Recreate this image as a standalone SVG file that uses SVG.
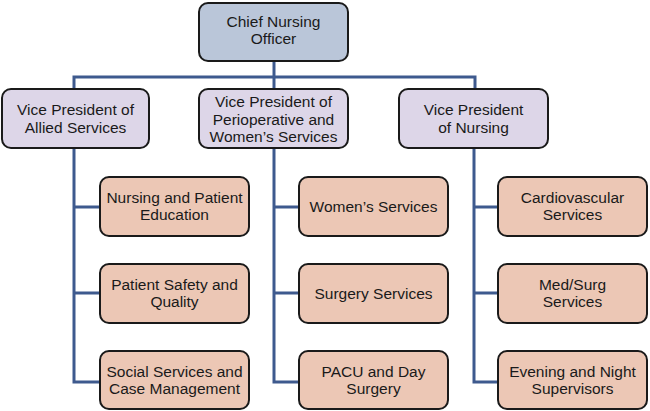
<svg xmlns="http://www.w3.org/2000/svg" width="650" height="411" viewBox="0 0 650 411">
<style>
  .box { stroke: #1a1a1a; stroke-width: 2; }
  .chief { fill: #bac6d9; }
  .vp { fill: #ddd6e8; }
  .dept { fill: #ecc7b5; }
  .lbl { font-family: "Liberation Sans", Arial, sans-serif; font-size: 15.5px; fill: #1a1a1a; text-anchor: middle; }
  .conn { stroke: #3e5a8e; stroke-width: 3; fill: none; }
</style>
<rect width="650" height="411" fill="#ffffff"/>
<g id="connectors">
  <path class="conn" d="M274 61 V89"/>
  <path class="conn" d="M74 89 V77 H475 V89"/>
  <path class="conn" d="M74 148 V382 H100 M74 207 H100 M74 293 H100"/>
  <path class="conn" d="M274 148 V382 H299 M274 207 H299 M274 293 H299"/>
  <path class="conn" d="M474 148 V382 H498 M474 207 H498 M474 293 H498"/>
</g>
<g id="chief">
  <rect class="box chief" x="199" y="3" width="149" height="58" rx="9"/>
  <text class="lbl" x="273.5" y="27">Chief Nursing</text>
  <text class="lbl" x="273.5" y="44">Officer</text>
</g>
<g id="vp-allied">
  <rect class="box vp" x="2" y="89" width="147" height="59" rx="9"/>
  <text class="lbl" x="75.5" y="115">Vice President of</text>
  <text class="lbl" x="75.5" y="133">Allied Services</text>
</g>
<g id="vp-periop">
  <rect class="box vp" x="199" y="89" width="149" height="59" rx="9"/>
  <text class="lbl" x="273.5" y="107">Vice President of</text>
  <text class="lbl" x="273.5" y="125">Perioperative and</text>
  <text class="lbl" x="273.5" y="142">Women’s Services</text>
</g>
<g id="vp-nursing">
  <rect class="box vp" x="399" y="89" width="149" height="59" rx="9"/>
  <text class="lbl" x="473.5" y="115">Vice President</text>
  <text class="lbl" x="473.5" y="133">of Nursing</text>
</g>
<g id="nursing-patient-education">
  <rect class="box dept" x="100" y="177" width="149" height="59" rx="9"/>
  <text class="lbl" x="174.5" y="203">Nursing and Patient</text>
  <text class="lbl" x="174.5" y="220">Education</text>
</g>
<g id="patient-safety">
  <rect class="box dept" x="100" y="264" width="149" height="59" rx="9"/>
  <text class="lbl" x="174.5" y="290">Patient Safety and</text>
  <text class="lbl" x="174.5" y="307">Quality</text>
</g>
<g id="social-services">
  <rect class="box dept" x="100" y="351" width="149" height="58" rx="9"/>
  <text class="lbl" x="174.5" y="377">Social Services and</text>
  <text class="lbl" x="174.5" y="394">Case Management</text>
</g>
<g id="womens-services">
  <rect class="box dept" x="299" y="177" width="149" height="59" rx="9"/>
  <text class="lbl" x="373.5" y="212">Women’s Services</text>
</g>
<g id="surgery-services">
  <rect class="box dept" x="299" y="264" width="149" height="59" rx="9"/>
  <text class="lbl" x="373.5" y="299">Surgery Services</text>
</g>
<g id="pacu">
  <rect class="box dept" x="299" y="351" width="149" height="58" rx="9"/>
  <text class="lbl" x="373.5" y="377">PACU and Day</text>
  <text class="lbl" x="373.5" y="394">Surgery</text>
</g>
<g id="cardiovascular">
  <rect class="box dept" x="498" y="177" width="149" height="59" rx="9"/>
  <text class="lbl" x="572.5" y="203">Cardiovascular</text>
  <text class="lbl" x="572.5" y="220">Services</text>
</g>
<g id="medsurg">
  <rect class="box dept" x="498" y="264" width="149" height="59" rx="9"/>
  <text class="lbl" x="572.5" y="290">Med/Surg</text>
  <text class="lbl" x="572.5" y="307">Services</text>
</g>
<g id="evening-night">
  <rect class="box dept" x="498" y="351" width="149" height="58" rx="9"/>
  <text class="lbl" x="572.5" y="377">Evening and Night</text>
  <text class="lbl" x="572.5" y="394">Supervisors</text>
</g>
</svg>
